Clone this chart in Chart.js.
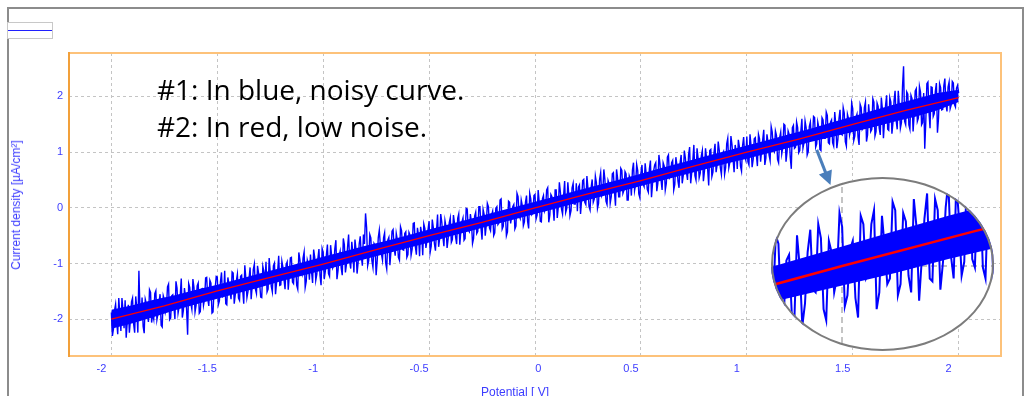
<!DOCTYPE html>
<html>
<head>
<meta charset="utf-8">
<script src="https://cdn.jsdelivr.net/npm/chart.js@4.4.1/dist/chart.umd.min.js"></script>
<style>
  body { margin: 0; width: 1028px; height: 396px; overflow: hidden; position: relative; background: #fff; font-family: "Liberation Sans", Arial, sans-serif; }
  #frame { position: absolute; left: 7px; top: 7px; width: 1013px; height: 400px; border: 2px solid #8c8c8c; border-bottom: none; }
  #legendBox { position: absolute; left: 7px; top: 22px; width: 44px; height: 15px; border: 1px solid #c8c8c8; background: #fff; }
  #legendBox div { position: absolute; left: 0; right: 0; top: 7px; height: 1px; background: #2020ff; }
  #main { position: absolute; left: 0; top: 0; }
  #inset { position: absolute; left: 771px; top: 177px; background: #fff; clip-path: ellipse(50% 50% at 50% 50%); }
  #insetRing { position: absolute; left: 771px; top: 177px; width: 219px; height: 170px; border: 2px solid #7c7c7c; border-radius: 50%; pointer-events: none; }
  .note { position: absolute; left: 157px; font-family: "Open Sans", Lato, sans-serif; font-size: 28px; line-height: 37px; color: #000; white-space: nowrap; }
  .axisTitle { position: absolute; color: #3c3cff; font-size: 12px; white-space: nowrap; }
</style>
</head>
<body>
<div id="frame"></div>
<div id="legendBox"><div></div></div>
<canvas id="main" width="1028" height="396"></canvas>
<canvas id="inset" width="223" height="174"></canvas>
<div id="insetRing"></div>
<div class="note" style="top:71px">#1: In blue, noisy curve.<br>#2: In red, low noise.</div>
<div class="axisTitle" style="left:16px;top:205px;transform:translate(-50%,-50%) rotate(-90deg);">Current density [µA/cm²]</div>
<div class="axisTitle" style="left:481px;top:385px;">Potential [ V]</div>
<script>
// potential sweep [V], samples on the 0.01 V grid
const potential = [
  -2.00,-1.99,-1.98,-1.97,-1.96,-1.95,-1.94,-1.93,-1.92,-1.91,-1.90,-1.89,-1.88,-1.87,-1.86,-1.85,-1.84,-1.83,-1.82,-1.81,
  -1.80,-1.79,-1.78,-1.77,-1.76,-1.75,-1.74,-1.73,-1.72,-1.71,-1.70,-1.69,-1.68,-1.67,-1.66,-1.65,-1.64,-1.63,-1.62,-1.61,
  -1.60,-1.59,-1.58,-1.57,-1.56,-1.55,-1.54,-1.53,-1.52,-1.51,-1.50,-1.49,-1.48,-1.47,-1.46,-1.45,-1.44,-1.43,-1.42,-1.41,
  -1.40,-1.39,-1.38,-1.37,-1.36,-1.35,-1.34,-1.33,-1.32,-1.31,-1.30,-1.29,-1.28,-1.27,-1.26,-1.25,-1.24,-1.23,-1.22,-1.21,
  -1.20,-1.19,-1.18,-1.17,-1.16,-1.15,-1.14,-1.13,-1.12,-1.11,-1.10,-1.09,-1.08,-1.07,-1.06,-1.05,-1.04,-1.03,-1.02,-1.01,
  -1.00,-0.99,-0.98,-0.97,-0.96,-0.95,-0.94,-0.93,-0.92,-0.91,-0.90,-0.89,-0.88,-0.87,-0.86,-0.85,-0.84,-0.83,-0.82,-0.81,
  -0.80,-0.79,-0.78,-0.77,-0.76,-0.75,-0.74,-0.73,-0.72,-0.71,-0.70,-0.69,-0.68,-0.67,-0.66,-0.65,-0.64,-0.63,-0.62,-0.61,
  -0.60,-0.59,-0.58,-0.57,-0.56,-0.55,-0.54,-0.53,-0.52,-0.51,-0.50,-0.49,-0.48,-0.47,-0.46,-0.45,-0.44,-0.43,-0.42,-0.41,
  -0.40,-0.39,-0.38,-0.37,-0.36,-0.35,-0.34,-0.33,-0.32,-0.31,-0.30,-0.29,-0.28,-0.27,-0.26,-0.25,-0.24,-0.23,-0.22,-0.21,
  -0.20,-0.19,-0.18,-0.17,-0.16,-0.15,-0.14,-0.13,-0.12,-0.11,-0.10,-0.09,-0.08,-0.07,-0.06,-0.05,-0.04,-0.03,-0.02,-0.01,
  0.00,0.01,0.02,0.03,0.04,0.05,0.06,0.07,0.08,0.09,0.10,0.11,0.12,0.13,0.14,0.15,0.16,0.17,0.18,0.19,
  0.20,0.21,0.22,0.23,0.24,0.25,0.26,0.27,0.28,0.29,0.30,0.31,0.32,0.33,0.34,0.35,0.36,0.37,0.38,0.39,
  0.40,0.41,0.42,0.43,0.44,0.45,0.46,0.47,0.48,0.49,0.50,0.51,0.52,0.53,0.54,0.55,0.56,0.57,0.58,0.59,
  0.60,0.61,0.62,0.63,0.64,0.65,0.66,0.67,0.68,0.69,0.70,0.71,0.72,0.73,0.74,0.75,0.76,0.77,0.78,0.79,
  0.80,0.81,0.82,0.83,0.84,0.85,0.86,0.87,0.88,0.89,0.90,0.91,0.92,0.93,0.94,0.95,0.96,0.97,0.98,0.99,
  1.00,1.01,1.02,1.03,1.04,1.05,1.06,1.07,1.08,1.09,1.10,1.11,1.12,1.13,1.14,1.15,1.16,1.17,1.18,1.19,
  1.20,1.21,1.22,1.23,1.24,1.25,1.26,1.27,1.28,1.29,1.30,1.31,1.32,1.33,1.34,1.35,1.36,1.37,1.38,1.39,
  1.40,1.41,1.42,1.43,1.44,1.45,1.46,1.47,1.48,1.49,1.50,1.51,1.52,1.53,1.54,1.55,1.56,1.57,1.58,1.59,
  1.60,1.61,1.62,1.63,1.64,1.65,1.66,1.67,1.68,1.69,1.70,1.71,1.72,1.73,1.74,1.75,1.76,1.77,1.78,1.79,
  1.80,1.81,1.82,1.83,1.84,1.85,1.86,1.87,1.88,1.89,1.90,1.91,1.92,1.93,1.94,1.95,1.96,1.97,1.98,1.99,
  2.00
];

// #1 noisy curve [µA/cm²] on that grid
const currentNoisy = [
  -1.88,-2.17,-1.73,-2.27,-1.91,-1.62,-2.16,-2.33,-1.74,-2.01,-1.62,-2.24,-1.80,-1.13,-2.01,-2.13,-1.64,-1.88,-1.47,-2.06,
  -2.00,-1.49,-1.90,-1.55,-2.14,-1.65,-1.79,-1.37,-1.98,-1.56,-2.00,-1.44,-1.78,-1.27,-1.84,-1.60,-2.28,-1.43,-1.82,-1.43,
  -1.75,-1.35,-1.86,-1.45,-1.64,-1.25,-1.76,-1.35,-1.87,-1.45,-1.24,-1.67,-1.16,-1.59,-1.72,-1.25,-1.50,-1.15,-1.72,-1.31,
  -1.62,-1.23,-1.48,-1.03,-1.61,-1.27,-1.64,-1.11,-1.46,-1.04,-1.35,-1.61,-1.14,-0.97,-1.46,-1.15,-1.51,-0.99,-1.34,-0.86,
  -1.38,-1.07,-1.46,-0.97,-1.22,-0.89,-1.36,-1.05,-1.46,-0.93,-1.20,-0.79,-1.32,-1.02,-0.84,-1.35,-0.89,-1.19,-0.74,-1.39,
  -0.80,-1.14,-0.66,-1.23,-0.86,-1.03,-0.58,-1.13,-0.78,-1.21,-0.66,-1.01,-0.48,-1.09,-0.80,-0.57,-1.18,-0.65,-0.87,-0.48,
  -0.10,-1.04,-0.48,-0.95,-0.64,-1.21,-0.54,-0.68,-0.94,-0.45,-1.10,-0.53,-0.78,-0.39,-0.86,-0.57,-0.94,-0.41,-0.76,-0.43,
  -0.84,-0.49,-0.74,-0.27,-0.84,-0.49,-0.34,-0.85,-0.37,-0.59,-0.24,-0.69,-0.36,-0.77,-0.12,-0.55,-0.26,-0.69,-0.34,-0.55,
  -0.18,-0.57,-0.28,-0.65,-0.11,-0.41,-0.18,-0.55,-0.02,-0.43,-0.26,-0.55,-0.08,-0.42,0.02,-0.57,-0.12,-0.31,0.02,-0.41,
  -0.06,-0.45,0.02,-0.27,0.16,-0.33,-0.08,-0.43,0.10,-0.15,0.06,-0.33,0.20,-0.19,0.04,-0.25,0.22,-0.37,0.16,-0.09,
  0.24,-0.13,0.10,-0.25,0.22,-0.01,0.36,-0.13,0.20,-0.23,0.32,0.01,0.28,-0.11,0.48,-0.01,0.21,-0.05,0.44,0.07,
  -0.06,0.41,0.14,0.51,0.06,0.35,-0.04,0.51,0.16,0.45,0.08,0.63,0.27,0.51,0.06,0.43,0.20,0.63,0.04,0.53,
  0.20,0.67,0.32,0.61,0.14,0.51,0.68,0.31,0.78,0.25,0.62,0.43,0.80,0.33,0.70,0.19,0.66,0.81,0.44,0.79,
  0.32,0.75,0.44,0.95,0.58,0.85,0.42,0.77,0.36,0.95,0.58,0.89,0.50,1.09,0.64,1.13,0.50,0.89,0.62,1.03,
  0.66,0.89,0.40,1.05,0.64,1.15,0.78,1.03,0.60,1.01,0.72,1.25,0.82,1.13,0.64,1.01,1.22,0.75,1.12,0.93,
  1.28,0.77,1.12,0.87,1.26,0.75,1.24,1.03,1.40,0.89,1.18,0.85,1.36,1.01,1.30,0.81,1.36,1.09,1.48,1.01,
  1.32,0.70,1.48,1.09,1.44,1.03,1.60,1.17,1.44,1.01,1.54,1.25,1.62,1.15,1.44,1.03,1.58,1.25,1.66,1.15,
  1.58,1.11,1.50,1.23,1.76,1.31,1.70,1.11,1.60,1.41,1.78,1.29,1.68,1.13,1.80,1.45,1.90,1.31,1.64,1.41,
  1.90,1.37,1.82,1.31,1.78,1.55,2.02,1.39,1.90,1.53,2.10,1.41,1.84,1.53,2.54,1.49,2.04,1.41,1.96,1.67,
  2.14,1.61,2.08,1.53,1.06,2.23,1.72,2.17,1.64,2.09,1.35,2.23,1.76,2.19,1.86,2.17,1.78,2.27,1.86,2.15,
  2.06
];

// the samples taken half way between the grid points
const potentialMid = [
  -1.995,-1.985,-1.975,-1.965,-1.955,-1.945,-1.935,-1.925,-1.915,-1.905,-1.895,-1.885,-1.875,-1.865,-1.855,-1.845,-1.835,-1.825,-1.815,-1.805,
  -1.795,-1.785,-1.775,-1.765,-1.755,-1.745,-1.735,-1.725,-1.715,-1.705,-1.695,-1.685,-1.675,-1.665,-1.655,-1.645,-1.635,-1.625,-1.615,-1.605,
  -1.595,-1.585,-1.575,-1.565,-1.555,-1.545,-1.535,-1.525,-1.515,-1.505,-1.495,-1.485,-1.475,-1.465,-1.455,-1.445,-1.435,-1.425,-1.415,-1.405,
  -1.395,-1.385,-1.375,-1.365,-1.355,-1.345,-1.335,-1.325,-1.315,-1.305,-1.295,-1.285,-1.275,-1.265,-1.255,-1.245,-1.235,-1.225,-1.215,-1.205,
  -1.195,-1.185,-1.175,-1.165,-1.155,-1.145,-1.135,-1.125,-1.115,-1.105,-1.095,-1.085,-1.075,-1.065,-1.055,-1.045,-1.035,-1.025,-1.015,-1.005,
  -0.995,-0.985,-0.975,-0.965,-0.955,-0.945,-0.935,-0.925,-0.915,-0.905,-0.895,-0.885,-0.875,-0.865,-0.855,-0.845,-0.835,-0.825,-0.815,-0.805,
  -0.795,-0.785,-0.775,-0.765,-0.755,-0.745,-0.735,-0.725,-0.715,-0.705,-0.695,-0.685,-0.675,-0.665,-0.655,-0.645,-0.635,-0.625,-0.615,-0.605,
  -0.595,-0.585,-0.575,-0.565,-0.555,-0.545,-0.535,-0.525,-0.515,-0.505,-0.495,-0.485,-0.475,-0.465,-0.455,-0.445,-0.435,-0.425,-0.415,-0.405,
  -0.395,-0.385,-0.375,-0.365,-0.355,-0.345,-0.335,-0.325,-0.315,-0.305,-0.295,-0.285,-0.275,-0.265,-0.255,-0.245,-0.235,-0.225,-0.215,-0.205,
  -0.195,-0.185,-0.175,-0.165,-0.155,-0.145,-0.135,-0.125,-0.115,-0.105,-0.095,-0.085,-0.075,-0.065,-0.055,-0.045,-0.035,-0.025,-0.015,-0.005,
  0.005,0.015,0.025,0.035,0.045,0.055,0.065,0.075,0.085,0.095,0.105,0.115,0.125,0.135,0.145,0.155,0.165,0.175,0.185,0.195,
  0.205,0.215,0.225,0.235,0.245,0.255,0.265,0.275,0.285,0.295,0.305,0.315,0.325,0.335,0.345,0.355,0.365,0.375,0.385,0.395,
  0.405,0.415,0.425,0.435,0.445,0.455,0.465,0.475,0.485,0.495,0.505,0.515,0.525,0.535,0.545,0.555,0.565,0.575,0.585,0.595,
  0.605,0.615,0.625,0.635,0.645,0.655,0.665,0.675,0.685,0.695,0.705,0.715,0.725,0.735,0.745,0.755,0.765,0.775,0.785,0.795,
  0.805,0.815,0.825,0.835,0.845,0.855,0.865,0.875,0.885,0.895,0.905,0.915,0.925,0.935,0.945,0.955,0.965,0.975,0.985,0.995,
  1.005,1.015,1.025,1.035,1.045,1.055,1.065,1.075,1.085,1.095,1.105,1.115,1.125,1.135,1.145,1.155,1.165,1.175,1.185,1.195,
  1.205,1.215,1.225,1.235,1.245,1.255,1.265,1.275,1.285,1.295,1.305,1.315,1.325,1.335,1.345,1.355,1.365,1.375,1.385,1.395,
  1.405,1.415,1.425,1.435,1.445,1.455,1.465,1.475,1.485,1.495,1.505,1.515,1.525,1.535,1.545,1.555,1.565,1.575,1.585,1.595,
  1.605,1.615,1.625,1.635,1.645,1.655,1.665,1.675,1.685,1.695,1.705,1.715,1.725,1.735,1.745,1.755,1.765,1.775,1.785,1.795,
  1.805,1.815,1.825,1.835,1.845,1.855,1.865,1.875,1.885,1.895,1.905,1.915,1.925,1.935,1.945,1.955,1.965,1.975,1.985,1.995
];
const currentMid = [
  -2.30,-1.84,-2.03,-1.62,-2.21,-1.85,-1.66,-2.05,-2.24,-1.69,-2.08,-1.59,-2.24,-1.82,-1.61,-2.25,-1.72,-2.05,-1.52,-1.91,
  -1.54,-2.01,-1.70,-2.11,-1.58,-1.87,-1.42,-2.01,-1.58,-1.77,-1.32,-1.89,-1.58,-1.97,-1.44,-1.81,-1.36,-1.71,-1.28,-1.87,
  -1.40,-1.89,-1.46,-1.75,-1.26,-1.63,-1.30,-1.89,-1.46,-1.23,-1.74,-1.33,-1.60,-1.13,-1.74,-1.37,-1.64,-1.17,-1.56,-1.19,
  -1.66,-1.21,-1.72,-1.27,-1.50,-1.07,-1.40,-1.01,-1.54,-1.17,-1.60,-1.05,-1.38,-1.51,-0.90,-1.41,-1.04,-1.55,-1.14,-1.39,
  -0.96,-1.29,-1.02,-1.47,-0.90,-1.33,-1.04,-1.39,-0.80,-1.15,-0.90,-1.43,-0.94,-1.29,-1.14,-0.75,-1.30,-0.91,-1.22,-0.73,
  -1.28,-0.85,-1.18,-0.67,-1.08,-0.73,-1.28,-0.87,-1.08,-0.55,-1.16,-0.71,-0.96,-0.61,-1.16,-0.75,-0.98,-0.51,-1.04,-0.65,
  -0.35,-0.95,-0.54,-1.07,-0.68,-0.95,-0.40,-0.83,-0.54,-0.99,-0.58,-1.03,-0.42,-0.73,-0.46,-0.89,-0.34,-0.75,-0.46,-0.89,
  -0.44,-0.85,-0.28,-0.69,-0.36,-0.87,-0.46,-0.29,-0.72,-0.39,-0.80,-0.21,-0.64,-0.41,-0.70,-0.11,-0.52,-0.23,-0.72,-0.27,
  -0.62,-0.13,-0.52,-0.19,-0.66,-0.25,-0.58,-0.01,-0.40,-0.11,-0.64,-0.15,-0.46,0.02,-0.36,-0.03,-0.50,0.08,-0.36,-0.13,
  -0.50,-0.01,-0.30,0.14,-0.38,-0.07,-0.50,0.12,-0.28,0.02,-0.38,0.26,-0.14,0.14,-0.32,0.10,-0.24,0.26,-0.12,0.22,
  -0.20,0.32,-0.24,0.16,-0.06,0.32,-0.26,0.24,0.03,0.32,-0.18,0.46,-0.02,0.22,-0.08,0.46,-0.14,0.36,0.07,0.44,
  0.37,-0.11,0.49,0.10,0.57,0.02,0.37,0.10,0.57,-0.01,0.51,0.22,0.69,0.12,0.49,0.08,0.61,0.30,0.69,0.20,
  0.71,0.26,0.65,0.14,0.57,0.22,0.81,0.42,0.67,0.18,0.77,0.38,0.61,0.28,0.85,0.44,0.77,0.30,0.95,0.50,
  0.81,0.32,0.91,0.54,0.81,0.32,0.91,0.48,0.81,0.44,1.03,0.64,0.95,0.44,0.85,0.58,1.07,0.54,0.93,0.48,
  1.07,0.70,1.03,0.56,0.99,0.64,1.19,0.72,0.97,0.60,1.15,0.72,1.29,0.88,1.13,0.70,1.09,0.66,1.27,0.86,
  0.83,1.32,0.73,1.24,0.95,1.32,0.83,1.22,0.77,1.32,0.95,1.46,1.05,1.38,0.87,1.26,0.97,1.50,0.83,1.38,
  0.91,1.44,1.07,1.54,0.99,1.38,1.07,1.56,0.95,1.46,1.23,1.64,1.09,1.54,1.05,1.62,1.25,1.72,1.17,1.54,
  1.17,1.72,1.07,1.60,1.33,1.80,1.19,1.68,1.31,1.88,1.21,1.62,1.27,1.86,1.41,1.80,1.19,1.86,1.37,1.96,
  1.29,1.88,1.43,1.98,1.25,1.84,1.41,1.98,1.33,1.92,1.57,2.10,1.43,2.18,1.55,2.08,1.49,2.02,1.37,2.10,
  1.55,2.18,1.49,2.06,1.55,2.26,1.43,2.16,1.69,2.24,1.61,2.16,1.77,2.32,1.73,2.26,1.85,2.24,1.81,2.20
];

// dense core of the noisy curve, read every 0.1 V
const bandPotential = [
  -2.0,-1.9,-1.8,-1.7,-1.6,-1.5,-1.4,-1.3,-1.2,-1.1,-1.0,-0.9,-0.8,-0.7,-0.6,-0.5,-0.4,-0.3,-0.2,-0.1,
  0.0,0.1,0.2,0.3,0.4,0.5,0.6,0.7,0.8,0.9,1.0,1.1,1.2,1.3,1.4,1.5,1.6,1.7,1.8,1.9,2.0
];
const bandUpper = [
  -1.83,-1.75,-1.65,-1.57,-1.47,-1.38,-1.28,-1.18,-1.08,-0.98,-0.88,-0.78,-0.68,-0.59,-0.49,-0.39,-0.29,-0.19,-0.09,0.01,
  0.11,0.21,0.31,0.41,0.51,0.61,0.72,0.82,0.92,1.02,1.12,1.22,1.32,1.42,1.53,1.64,1.75,1.86,1.96,2.06,2.12
];
const bandLower = [
  -2.17,-2.07,-1.96,-1.84,-1.73,-1.63,-1.53,-1.43,-1.32,-1.22,-1.12,-1.02,-0.92,-0.82,-0.72,-0.62,-0.51,-0.41,-0.31,-0.21,
  -0.11,-0.01,0.09,0.19,0.29,0.39,0.49,0.59,0.69,0.79,0.88,0.98,1.08,1.18,1.27,1.36,1.45,1.55,1.64,1.75,1.90
];

// #2 low-noise curve
const redPotential = [-2.00,-1.75,-1.50,-1.25,-1.00,-0.75,-0.50,-0.25,0.00,0.25,0.50,0.75,1.00,1.25,1.50,1.75,2.00];
const redCurrent   = [-2.00,-1.76,-1.49,-1.25,-1.01,-0.75,-0.50,-0.26,0.00,0.25,0.49,0.75,1.00,1.24,1.50,1.75,1.98];

const xTicks = [-2, -1.5, -1, -0.5, 0, 0.5, 1, 1.5, 2];
const yTicks = [-2, -1, 0, 1, 2];

const BLUE_TEXT = '#3c3cff';

// grid samples and half-way samples, in sweep order
const noisyPoints = [];
potential.forEach((v, i) => {
  noisyPoints.push({ x: v, y: currentNoisy[i] });
  if (i < potentialMid.length) noisyPoints.push({ x: potentialMid[i], y: currentMid[i] });
});
const upperPoints = bandPotential.map((v, i) => ({ x: v, y: bandUpper[i] }));
const lowerPoints = bandPotential.map((v, i) => ({ x: v, y: bandLower[i] }));
const redPoints = redPotential.map((v, i) => ({ x: v, y: redCurrent[i] }));

function makeDatasets(noisyWidth, redWidth) {
  return [{
    data: upperPoints,
    borderColor: 'rgba(0,0,0,0)',
    pointRadius: 0,
    fill: false,
    order: 4
  }, {
    data: lowerPoints,
    borderColor: 'rgba(0,0,0,0)',
    backgroundColor: '#0000ff',
    pointRadius: 0,
    fill: '-1',
    order: 3
  }, {
    label: '#1',
    data: noisyPoints,
    borderColor: '#0000ff',
    borderWidth: noisyWidth,
    pointRadius: 0,
    tension: 0,
    order: 2
  }, {
    label: '#2',
    data: redPoints,
    borderColor: '#ff0000',
    borderWidth: redWidth,
    pointRadius: 0,
    tension: 0,
    order: 1
  }];
}

// orange frame round the plot area
const plotFrame = {
  id: 'plotFrame',
  beforeDatasetsDraw(chart) {
    const { ctx, chartArea: a } = chart;
    ctx.save();
    ctx.lineWidth = 2;
    ctx.strokeStyle = '#fdc27a';
    ctx.strokeRect(a.left, a.top, a.right - a.left, a.bottom - a.top);
    ctx.strokeStyle = '#f2a03a';
    ctx.beginPath();
    ctx.moveTo(a.left, a.top - 1);
    ctx.lineTo(a.left, a.bottom + 1);
    ctx.stroke();
    ctx.restore();
  }
};

// arrow pointing from the curve to the magnified view
const zoomArrow = {
  id: 'zoomArrow',
  afterDraw(chart) {
    const { ctx, scales: { x, y } } = chart;
    const x0 = x.getPixelForValue(1.33), y0 = y.getPixelForValue(1.04);
    const x1 = x.getPixelForValue(1.395), y1 = y.getPixelForValue(0.41);
    const ang = Math.atan2(y1 - y0, x1 - x0);
    ctx.save();
    ctx.strokeStyle = '#4a7ebb';
    ctx.fillStyle = '#4a7ebb';
    ctx.lineWidth = 3;
    ctx.beginPath();
    ctx.moveTo(x0, y0);
    ctx.lineTo(x1 - 12 * Math.cos(ang), y1 - 12 * Math.sin(ang));
    ctx.stroke();
    ctx.beginPath();
    ctx.moveTo(x1, y1);
    ctx.lineTo(x1 - 14 * Math.cos(ang) + 7 * Math.sin(ang), y1 - 14 * Math.sin(ang) - 7 * Math.cos(ang));
    ctx.lineTo(x1 - 14 * Math.cos(ang) - 7 * Math.sin(ang), y1 - 14 * Math.sin(ang) + 7 * Math.cos(ang));
    ctx.closePath();
    ctx.fill();
    ctx.restore();
  }
};

new Chart(document.getElementById('main'), {
  type: 'line',
  data: { datasets: makeDatasets(1.4, 1.3) },
  options: {
    responsive: false,
    animation: false,
    events: [],
    layout: { padding: { top: 53, right: 27, left: 0, bottom: 0 } },
    plugins: { legend: { display: false }, tooltip: { enabled: false } },
    scales: {
      x: {
        type: 'linear',
        min: -2.2,
        max: 2.2,
        afterBuildTicks: s => { s.ticks = xTicks.map(v => ({ value: v })); },
        afterFit: s => { s.height = 40; },
        grid: { color: '#c4c4c4', drawTicks: false },
        border: { display: false, dash: [3, 3] },
        ticks: {
          color: BLUE_TEXT,
          font: { family: 'Liberation Sans', size: 11 },
          padding: 6,
          labelOffset: -10,
          maxRotation: 0,
          callback: v => v === 0 ? '\u2007\u2007\u2007\u2007\u20090' : String(v)
        }
      },
      y: {
        min: -2.66,
        max: 2.78,
        afterBuildTicks: s => { s.ticks = yTicks.map(v => ({ value: v })); },
        afterFit: s => { s.width = 69; },
        grid: { color: '#c4c4c4', drawTicks: false },
        border: { display: false, dash: [3, 3] },
        ticks: {
          color: BLUE_TEXT,
          font: { family: 'Liberation Sans', size: 11 },
          padding: 6
        }
      }
    }
  },
  plugins: [plotFrame, zoomArrow]
});

// magnified view of the same data, about 2.5x, centred on (1.5, 1.5)
new Chart(document.getElementById('inset'), {
  type: 'line',
  data: { datasets: makeDatasets(2, 2.5) },
  options: {
    responsive: false,
    animation: false,
    events: [],
    layout: { padding: 0 },
    plugins: { legend: { display: false }, tooltip: { enabled: false } },
    scales: {
      x: {
        type: 'linear',
        min: 1.366,
        max: 1.786,
        afterBuildTicks: s => { s.ticks = [{ value: 1.5 }]; },
        afterFit: s => { s.height = 0; },
        grid: { color: '#c4c4c4', lineWidth: 2, drawTicks: false },
        border: { display: false, dash: [6, 4] },
        ticks: { display: false }
      },
      y: {
        min: 0.89,
        max: 2.138,
        afterBuildTicks: s => { s.ticks = [{ value: 1.5 }]; },
        afterFit: s => { s.width = 0; },
        grid: { color: '#c4c4c4', lineWidth: 2, drawTicks: false },
        border: { display: false, dash: [6, 4] },
        ticks: { display: false }
      }
    }
  }
});
</script>
</body>
</html>
